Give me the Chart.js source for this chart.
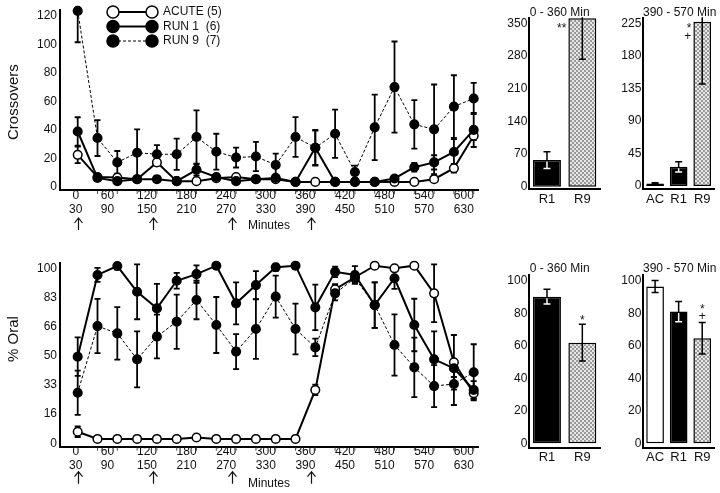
<!DOCTYPE html>
<html>
<head>
<meta charset="utf-8">
<script src="https://cdn.jsdelivr.net/npm/chart.js@4.4.1/dist/chart.umd.min.js"></script>
<style>
  body{margin:0;background:#fff;}
  canvas{position:absolute;}
</style>
</head>
<body>
<canvas id="cross" width="490" height="240" style="left:0;top:0"></canvas>
<canvas id="oral" width="490" height="243" style="left:0;top:250px"></canvas>
<canvas id="crossA" width="115" height="215" style="left:490px;top:0"></canvas>
<canvas id="crossB" width="115" height="215" style="left:605px;top:0"></canvas>
<canvas id="oralA" width="115" height="243" style="left:490px;top:250px"></canvas>
<canvas id="oralB" width="115" height="243" style="left:605px;top:250px"></canvas>
<script>
var FONT='"Liberation Sans", Arial, sans-serif';
Chart.defaults.font.family=FONT;
Chart.defaults.font.size=12;
Chart.defaults.color='#111';

// time course: 21 half-hour samples, labels sit between sample pairs
var xTickLabels=[['0','30'],['60','90'],['120','150'],['180','210'],['240','270'],['300','330'],
  ['360','390'],['420','450'],['480','510'],['540','570'],['600','630']];
var injectIdx=[0,3.8,7.8,11.8];

var crossTicks=[0,20,40,60,80,100,120];
var crossAcute=[22.4,6.8,6.5,5.3,17.1,3.9,3.9,6,6.8,5.3,5.3,3.4,3.4,3.4,3.4,3.4,3.4,3.4,5.3,13,35.8];
var crossAcuteErr=[5.8,1,1,1,2,1,1,1,1,1,1,0.5,0.5,0.5,0.5,0.5,0.5,1,1.5,3,3];
var crossRun1=[38.8,6.2,3.9,5.3,5.3,3.9,11.9,6.8,3.9,5.3,6.2,3.4,27.4,3.4,3.4,3.4,5.8,13.7,17.1,24.4,39.9];
var crossRun1Err=[10,1.5,1,1.5,2,1,4,2,1,1,1,1,12,0.5,0.5,0.5,1.5,3,5,9,12];
var crossRun9=[123.5,34.2,17.1,23.9,22.8,22.8,34.9,24.6,20.5,21.2,15.3,34.9,27.4,37.2,10.3,41.7,70,43.8,40.3,56.3,62];
var crossRun9Err=[22,12.6,8,16.4,6.4,11,18.7,12.6,7,10.3,8,14,12.5,17,4.5,23,32,17,31.5,22,11];

var oralTicks=[0,16.67,33.33,50,66.67,83.33,100];
var oralTickLabels=['0','16','33','50','66','83','100'];
var oralAcute=[6.6,2.5,2.5,2.5,2.5,2.5,3.3,2.5,2.5,2.5,2.5,2.5,30.5,88,94.9,101.5,100,101.5,85.7,46.3,28.6];
var oralAcuteErr=[3,0.5,0.5,0.5,0.5,0.5,1,0.5,0.5,0.5,0.5,0.5,3,3,3,1,1,1,16.5,15.6,3];
var oralRun1=[49.5,96.2,101.3,86.6,77.1,92.9,96.7,101.5,80,90.4,100.6,101.5,77.7,98,96.2,79,94.3,67.6,48,42.9,30.5];
var oralRun1Err=[11,4,2,15.7,14,4.5,5,2,12,8,2,2,13,3,5,13,6,15,16,5,5];
var oralRun9=[28.9,67,62.8,48,61,69.5,81.9,67.6,52.4,65.3,83.8,65.3,54.8,85.7,94.3,79,56.2,43.4,32.7,33.9,40.6];
var oralRun9Err=[12.6,15.5,15,16,12.5,15.5,11,16,10,17,12,14.5,5,4,3,13,17.5,17,12,12,16];

// group means
var cats2=['R1','R9'], cats3=['AC','R1','R9'];
var cross0360=[57,360.8], cross0360Err=[18,88], cross0360Sig=[[],['**']];
var cross390=[3.5,26.5,227], cross390Err=[1,7,86], cross390Sig=[[],[],['*','+']];
var oral0360=[90.2,61.9], oral0360Err=[4.6,11.3], oral0360Sig=[[],['*']];
var oral390=[96.4,81,64.6], oral390Err=[3.7,6.2,9.7], oral390Sig=[[],[],['*','+']];
var crossBarTicks1=[0,70,140,210,280,350], crossBarTicks2=[0,45,90,135,180,225], oralBarTicks=[0,20,40,60,80,100];

var hatch=(function(){
  var c=document.createElement('canvas');c.width=4;c.height=4;
  var g=c.getContext('2d');
  g.fillStyle='#e6e6e6';g.fillRect(0,0,4,4);
  g.fillStyle='#9a9a9a';g.fillRect(0,0,2,2);g.fillRect(2,2,2,2);
  return g.createPattern(c,'repeat');
})();
var barFill={AC:'#fff',R1:'#000',R9:hatch};

function bar(ctx,x,y0,y1,col,w,capTop,capBot){
  ctx.strokeStyle=col;ctx.beginPath();
  ctx.moveTo(x,y0);ctx.lineTo(x,y1);
  if(capTop){ctx.moveTo(x-w,y0);ctx.lineTo(x+w,y0);}
  if(capBot){ctx.moveTo(x-w,y1);ctx.lineTo(x+w,y1);}
  ctx.stroke();
}

function drawErrors(chart){
  var ctx=chart.ctx, ys=chart.scales.y, a=chart.chartArea, isBar=chart.config.type==='bar';
  ctx.save();
  ctx.beginPath();ctx.rect(a.left-8,a.top-1,a.right-a.left+16,a.bottom-a.top+1);ctx.clip();
  ctx.lineWidth=isBar?1.5:1.8;
  chart.data.datasets.forEach(function(ds,i){
    if(!ds.errors) return;
    chart.getDatasetMeta(i).data.forEach(function(el,j){
      var d=ds.data[j], v=(typeof d==='object')?d.y:d, e=ds.errors[j];
      var top=ys.getPixelForValue(v+e), bot=ys.getPixelForValue(v-e), w=isBar?3.5:3;
      bar(ctx,el.x,top,bot,'#000',w,true,true);
      if(isBar && ds.backgroundColor[j]==='#000'){
        var t=Math.max(top,el.y+1.5), b=Math.min(bot,el.base-1.5);
        if(b>t) bar(ctx,el.x,t,b,'#fff',w,top>=el.y,bot<=el.base);
      }
    });
  });
  ctx.restore();
}

var errorBars={id:'errorBars',
  beforeDatasetsDraw:function(chart,args,o){ if(o.where==='before') drawErrors(chart); },
  afterDatasetsDraw:function(chart,args,o){ if(o.where==='after') drawErrors(chart); }
};

var seriesLegend={id:'seriesLegend',afterDraw:function(chart,args,o){
  if(!o.show) return;
  var ctx=chart.ctx;
  chart.data.datasets.forEach(function(ds,i){
    var y=o.y0+i*o.gap;
    ctx.save();
    ctx.strokeStyle='#000';ctx.lineWidth=ds.borderWidth;ctx.setLineDash(ds.borderDash||[]);
    ctx.beginPath();ctx.moveTo(o.x0,y);ctx.lineTo(o.x1,y);ctx.stroke();
    ctx.setLineDash([]);ctx.lineWidth=1.5;ctx.fillStyle=ds.pointBackgroundColor;
    [o.x0,o.x1].forEach(function(x){ctx.beginPath();ctx.arc(x,y,6,0,Math.PI*2);ctx.fill();ctx.stroke();});
    ctx.fillStyle='#111';ctx.font='12px '+FONT;ctx.textBaseline='middle';ctx.textAlign='left';
    ctx.fillText(ds.label,o.x1+11,y);
    ctx.restore();
  });
}};

// sample tick marks under the axis and injection arrows
var xMarks={id:'xMarks',afterDraw:function(chart,args,o){
  var ctx=chart.ctx, xs=chart.scales.x, top=xs.top;
  ctx.save();
  ctx.strokeStyle='#555';ctx.lineWidth=1;
  for(var k=1;k<crossAcute.length;k++){
    var px=xs.getPixelForValue(k);
    ctx.beginPath();ctx.moveTo(px,top+1);ctx.lineTo(px,top+4);ctx.stroke();
  }
  ctx.strokeStyle='#111';ctx.lineWidth=1.2;
  injectIdx.forEach(function(v){
    var x=Math.round(xs.getPixelForValue(v))+0.5, y=top+o.arrowDy;
    ctx.beginPath();
    ctx.moveTo(x,y);ctx.lineTo(x,y+12);
    ctx.moveTo(x-4,y+5);ctx.lineTo(x,y);ctx.lineTo(x+4,y+5);
    ctx.stroke();
  });
  ctx.restore();
}};

var yTitle={id:'yTitle',afterDraw:function(chart,args,o){
  var ctx=chart.ctx, a=chart.chartArea;
  ctx.save();
  ctx.translate(14,(a.top+a.bottom)/2+o.dy);ctx.rotate(-Math.PI/2);
  ctx.fillStyle='#111';ctx.font='15px '+FONT;ctx.textAlign='center';ctx.textBaseline='middle';
  ctx.fillText(o.text,0,0);
  ctx.restore();
}};

var panelTitle={id:'panelTitle',afterDraw:function(chart,args,o){
  var ctx=chart.ctx, a=chart.chartArea, ys=chart.scales.y;
  ctx.save();
  ctx.fillStyle='#111';ctx.font='12px '+FONT;ctx.textAlign='center';ctx.textBaseline='middle';
  ctx.fillText(o.text,(a.left+a.right)/2+o.dx,a.top-6);
  var ds=chart.data.datasets[0];
  chart.getDatasetMeta(0).data.forEach(function(el,j){
    var lines=ds.sig[j]; if(!lines.length) return;
    var errTop=ys.getPixelForValue(ds.data[j]+ds.errors[j]);
    lines.forEach(function(s,i){
      var x,y;
      if(errTop-10*lines.length<a.top){ ctx.textAlign='right'; x=el.x-el.width/2-2; y=a.top+8+i*10; }
      else { ctx.textAlign='center'; x=el.x; y=errTop-6-(lines.length-1-i)*9; }
      ctx.fillText(s,x,y+(s==='+'?0:2));
    });
  });
  ctx.restore();
}};

function timeCourse(id,series,ticks,labels,o){
  function pts(a){return a.map(function(v,i){return {x:i,y:v};});}
  var styles=[
    {label:'ACUTE (5)',fill:'#fff',width:2,dash:[],order:3},
    {label:'RUN 1  (6)',fill:'#000',width:2,dash:[],order:2},
    {label:'RUN 9  (7)',fill:'#000',width:1,dash:[3,2],order:1}
  ];
  return new Chart(document.getElementById(id),{
    type:'line',
    data:{datasets:series.map(function(s,i){
      var st=styles[i];
      return {label:st.label,data:pts(s[0]),errors:s[1],order:st.order,clip:false,
        borderColor:'#000',borderWidth:st.width,borderDash:st.dash,tension:0,
        pointRadius:4.3,pointBorderWidth:1.5,pointBorderColor:'#000',pointBackgroundColor:st.fill};
    })},
    options:{responsive:false,animation:false,devicePixelRatio:1,
      layout:{padding:{left:0,top:o.top,right:12,bottom:0}},
      plugins:{legend:{display:false},tooltip:{enabled:false},
        errorBars:{where:'before'},seriesLegend:{show:o.legend,x0:113,x1:152,y0:12,gap:14.5},
        xMarks:{arrowDy:o.arrowDy},yTitle:{text:o.title,dy:o.titleDy}},
      scales:{
        x:{type:'linear',min:-0.894,max:20.217,
          grid:{display:false,drawTicks:false},border:{display:true,color:'#000',width:2},
          afterBuildTicks:function(s){s.ticks=xTickLabels.map(function(l,j){return {value:j===0?-0.1:2*j-0.5};});},
          afterFit:function(s){s.height=o.xh;},
          ticks:{autoSkip:false,maxRotation:0,padding:-1.5,font:{size:12,lineHeight:1.15},
            callback:function(v,i){return xTickLabels[i];}},
          title:{display:true,text:'Minutes',font:{size:12},padding:{top:0,bottom:o.minPad}}},
        y:{min:o.yr[0],max:o.yr[1],
          grid:{display:false,drawTicks:false},border:{display:true,color:'#000',width:2},
          afterBuildTicks:function(s){s.ticks=ticks.map(function(v){return {value:v};});},
          afterFit:function(s){s.width=60;},
          ticks:{padding:3,font:{size:12},callback:function(v,i){return labels[i];}}}
      }},
    plugins:[errorBars,seriesLegend,xMarks,yTitle]
  });
}

function barPanel(id,cats,vals,errs,sig,ticks,o){
  return new Chart(document.getElementById(id),{
    type:'bar',
    data:{labels:cats,datasets:[{data:vals,errors:errs,sig:sig,clip:false,
      backgroundColor:cats.map(function(c){return barFill[c];}),borderColor:'#000',borderWidth:1.5,
      borderSkipped:false,barPercentage:o.bp,categoryPercentage:1}]},
    options:{responsive:false,animation:false,devicePixelRatio:1,
      layout:{padding:{left:0,top:o.top,right:o.right,bottom:0}},
      plugins:{legend:{display:false},tooltip:{enabled:false},
        errorBars:{where:'after'},panelTitle:{text:o.title,dx:o.dx}},
      scales:{
        x:{grid:{display:false,drawTicks:false},border:{display:true,color:'#000',width:2},
          ticks:{padding:2,autoSkip:false,maxRotation:0,minRotation:0,font:{size:13}},
          afterFit:function(s){s.height=o.xh;}},
        y:{min:o.yr[0],max:o.yr[1],grid:{display:false,drawTicks:false},border:{display:true,color:'#000',width:2},
          afterBuildTicks:function(s){s.ticks=ticks.map(function(v){return {value:v};});},
          afterFit:function(s){s.width=o.yw;},ticks:{padding:2,font:{size:12}}}
      }},
    plugins:[errorBars,panelTitle]
  });
}

timeCourse('cross',[[crossAcute,crossAcuteErr],[crossRun1,crossRun1Err],[crossRun9,crossRun9Err]],
  crossTicks,crossTicks.map(String),
  {top:5,xh:50,yr:[-2.3,124],legend:true,arrowDy:28,minPad:7,title:'Crossovers',titleDy:2});
timeCourse('oral',[[oralAcute,oralAcuteErr],[oralRun1,oralRun1Err],[oralRun9,oralRun9Err]],
  oralTicks,oralTickLabels,
  {top:13.3,xh:46.3,yr:[-1.94,102.86],legend:false,arrowDy:25,minPad:2.5,title:'% Oral',titleDy:-16});

barPanel('crossA',cats2,cross0360,cross0360Err,cross0360Sig,crossBarTicks1,
  {top:18.3,right:5,yw:39.3,xh:25.7,bp:0.79,yr:[-5.57,360.7],title:'0 - 360 Min',dx:-5});
barPanel('crossB',cats3,cross390,cross390Err,cross390Sig,crossBarTicks2,
  {top:18.3,right:6,yw:38.3,xh:25.7,bp:0.75,yr:[-4.56,231.9],title:'390 - 570 Min',dx:1});
barPanel('oralA',cats2,oral0360,oral0360Err,oral0360Sig,oralBarTicks,
  {top:25,right:5,yw:39.3,xh:45.3,bp:0.79,yr:[-2.7,103.5],title:'0 - 360 Min',dx:-5});
barPanel('oralB',cats3,oral390,oral390Err,oral390Sig,oralBarTicks,
  {top:25,right:6,yw:38.3,xh:45.3,bp:0.75,yr:[-2.7,103.5],title:'390 - 570 Min',dx:1});
</script>
</body>
</html>
